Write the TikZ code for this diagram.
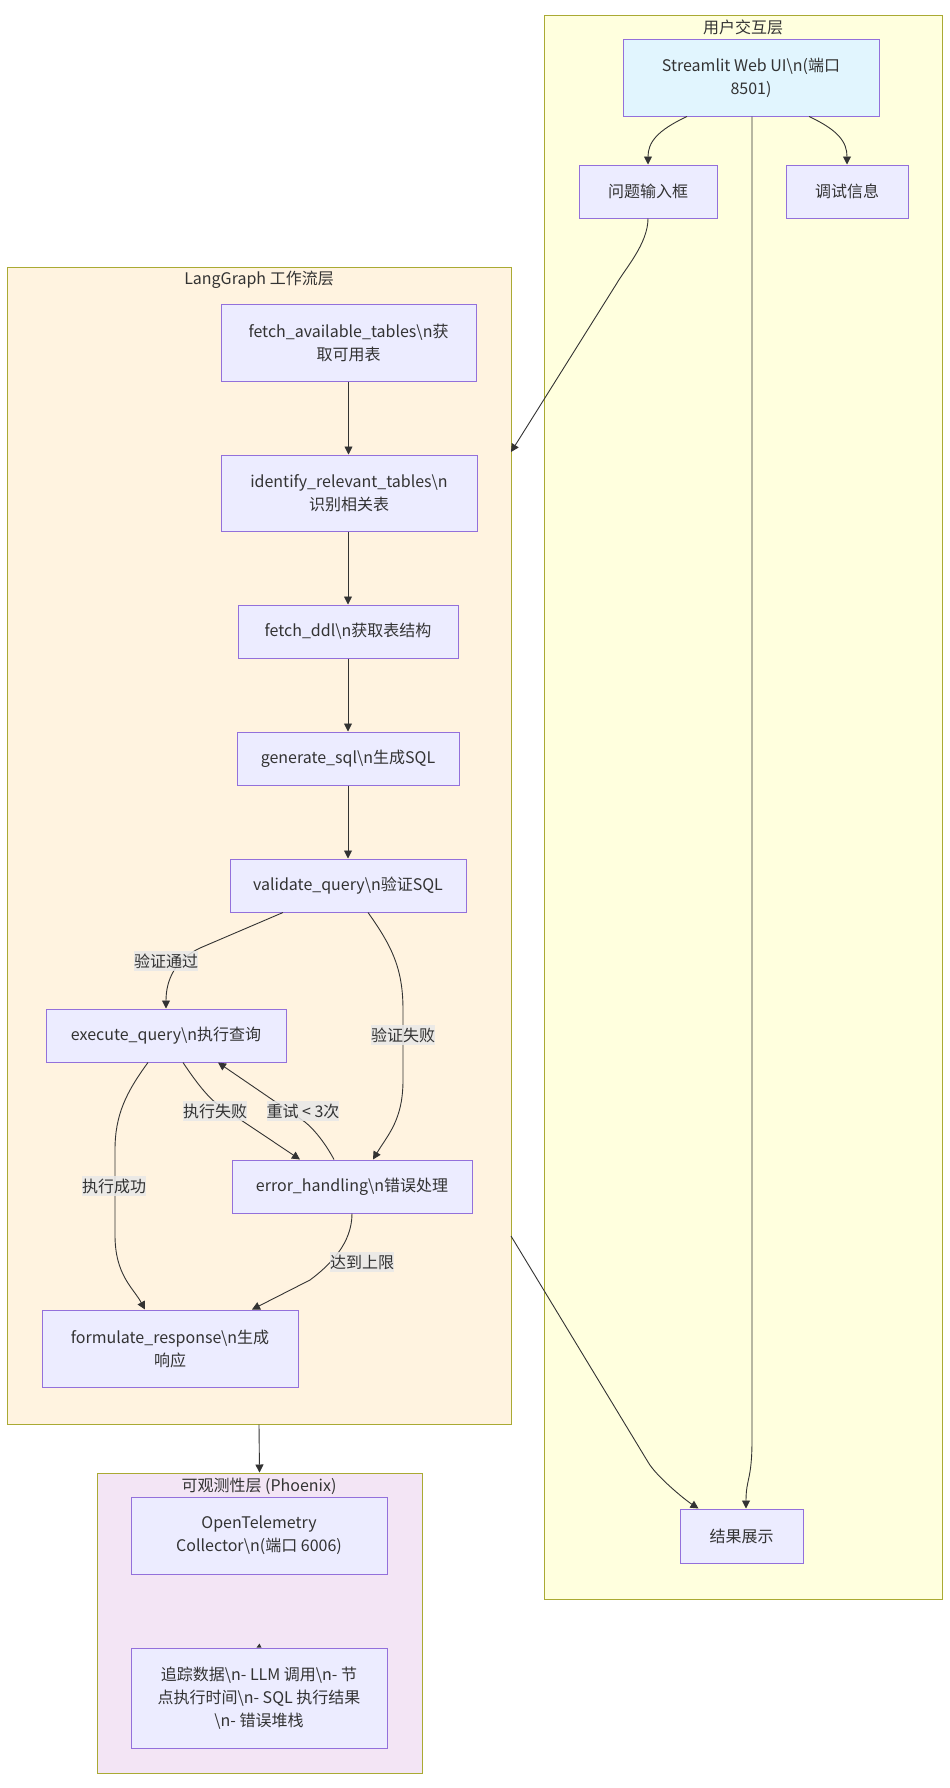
\documentclass[tikz,border=0pt]{standalone}
\usepackage{fontspec}
\setmainfont{Noto Sans CJK SC}
\usepackage{tikz}
\usetikzlibrary{arrows.meta}
\definecolor{nodefill}{HTML}{ECECFF}
\definecolor{nodeline}{HTML}{9370DB}
\definecolor{edgecol}{HTML}{333333}
\definecolor{clusterline}{HTML}{AAAA33}
\definecolor{uifill}{HTML}{FFFFDE}
\definecolor{lgfill}{HTML}{FFF3E0}
\definecolor{obsfill}{HTML}{F3E5F5}
\definecolor{webfill}{HTML}{E1F5FE}
\definecolor{lblfill}{HTML}{E8E8E8}

\begin{document}
\begin{tikzpicture}[x=1pt,y=-1pt,
    box/.style={draw=nodeline,fill=nodefill,line width=1pt,align=center,inner sep=0pt,
      text=edgecol,font=\fontsize{16}{23}\selectfont},
    cluster/.style={draw=clusterline,line width=1pt,inner sep=0pt},
    ttl/.style={text=edgecol,font=\fontsize{16}{19}\selectfont,inner sep=0pt},
    lbl/.style={fill=lblfill,fill opacity=0.85,text opacity=1,inner xsep=0pt,inner ysep=3pt,
      text=edgecol,font=\fontsize{16}{19}\selectfont},
    arr/.style={draw=edgecol,line width=0.9pt,-{Triangle[length=8pt,width=8pt]}}]
  \useasboundingbox[fill=white] (0,0) rectangle (950,1788);
  % layers
  \node[cluster,fill=uifill,minimum width=398pt,minimum height=1584pt] (ui) at (743,807) {};
  \node[cluster,fill=lgfill,minimum width=504pt,minimum height=1157pt] (lg) at (259,845.5) {};
  \node[cluster,fill=obsfill,minimum width=325pt,minimum height=300pt] (obs) at (259.5,1623) {};
  \node[ttl] (uititle) at (743,27) {用户交互层};
  \node[ttl] (lgtitle) at (259,280) {LangGraph 工作流层};
  \node[ttl] (obstitle) at (259,1486) {可观测性层 (Phoenix)};
  \coordinate (lgin) at (511,452);
  \coordinate (lgout) at (511,1236);
  % nodes
  \node[box,fill=webfill,minimum width=256pt,minimum height=77pt] (web) at (751,77.5) {Streamlit Web UI\textbackslash n(端口\\8501)};
  \node[box,minimum width=138pt,minimum height=53pt] (question) at (648,191.5) {问题输入框};
  \node[box,minimum width=122pt,minimum height=53pt] (debug) at (847,191.5) {调试信息};
  \node[box,minimum width=123pt,minimum height=54pt] (result) at (741.5,1536) {结果展示};
  \node[box,minimum width=255pt,minimum height=77pt] (fetch) at (348.5,342.5) {fetch\_available\_tables\textbackslash n获\\取可用表};
  \node[box,minimum width=256pt,minimum height=76pt] (identify) at (349,493) {identify\_relevant\_tables\textbackslash n\\识别相关表};
  \node[box,minimum width=220pt,minimum height=53pt] (ddl) at (348,631.5) {fetch\_ddl\textbackslash n获取表结构};
  \node[box,minimum width=222pt,minimum height=53pt] (gensql) at (348,758.5) {generate\_sql\textbackslash n生成SQL};
  \node[box,minimum width=236pt,minimum height=53pt] (validate) at (348,885.5) {validate\_query\textbackslash n验证SQL};
  \node[box,minimum width=240pt,minimum height=53pt] (execute) at (166,1035.5) {execute\_query\textbackslash n执行查询};
  \node[box,minimum width=240pt,minimum height=53pt] (errorh) at (352,1186.5) {error\_handling\textbackslash n错误处理};
  \node[box,minimum width=256pt,minimum height=77pt] (formulate) at (170,1348.5) {formulate\_response\textbackslash n生成\\响应};
  \node[box,minimum width=256pt,minimum height=77pt] (collector) at (259,1535.5) {OpenTelemetry\\Collector\textbackslash n(端口 6006)};
  \node[box,minimum width=256pt,minimum height=100pt] (trace) at (259,1698) {追踪数据\textbackslash n- LLM 调用\textbackslash n- 节\\点执行时间\textbackslash n- SQL 执行结果\\\textbackslash n- 错误堆栈};
  % connectors
  \draw[arr] ([xshift=-64pt]web.south) .. controls +(-30,14) and +(0,-22) .. (question.north);
  \draw[arr] ([xshift=58pt]web.south) .. controls +(30,14) and +(0,-22) .. (debug.north);
  \draw[arr] ([xshift=1pt]web.south) -- (752,1440) .. controls +(0,40) and +(0,-30) .. ([xshift=4.5pt]result.north);
  \draw[arr] (question.south) .. controls +(0,25) and +(8,-14) .. (617,283) -- (lgin);
  \draw[arr] (fetch) -- (identify.north -| fetch);
  \draw[arr] (identify.south -| ddl) -- (ddl);
  \draw[arr] (ddl) -- (gensql);
  \draw[arr] (gensql) -- (validate);
  \draw[arr] ([xshift=-65pt]validate.south) -- (200,948) .. controls (175,960) and (166,980) .. (execute.north);
  \draw[arr] ([xshift=20pt]validate.south) .. controls +(25,35) and +(0,-40) .. (403,1010) -- (403,1080)
    .. controls +(0,40) and +(15,-25) .. ([xshift=21pt]errorh.north);
  \draw[arr] ([xshift=17pt]execute.south) .. controls +(12,18) and +(-12,-8) .. (220,1106) -- ([xshift=-52pt]errorh.north);
  \draw[arr] ([xshift=-18pt]errorh.north) .. controls +(-8,-15) and +(10,8) .. (305,1122) -- ([xshift=52pt]execute.south);
  \draw[arr] ([xshift=-18pt]execute.south) .. controls +(-22,30) and +(0,-35) .. (115,1150) -- (115,1235)
    .. controls +(0,40) and +(-12,-22) .. ([xshift=-25pt]formulate.north);
  \draw[arr] (errorh.south) .. controls +(0,30) and +(20,-15) .. (310,1280) -- ([xshift=82pt]formulate.north);
  \draw[arr] (lg.south) -- (obs.north);
  \draw[arr] (lgout) -- (648,1462) .. controls +(8,14) and +(-14,-9) .. ([xshift=-43pt]result.north);
  \fill[edgecol] ([xshift=-2.5pt]trace.north) -- ([xshift=2.5pt]trace.north) -- ([xshift=0.5pt,yshift=4pt]trace.north) -- cycle;
  % edge labels
  \node[lbl] (passlbl) at (166,961) {验证通过};
  \node[lbl] (faillbl) at (403,1035) {验证失败};
  \node[lbl] (execfaillbl) at (215,1111) {执行失败};
  \node[lbl] (retrylbl) at (303,1111) {重试 < 3次};
  \node[lbl] (execoklbl) at (114,1186) {执行成功};
  \node[lbl] (limitlbl) at (362,1262) {达到上限};
\end{tikzpicture}
\end{document}
